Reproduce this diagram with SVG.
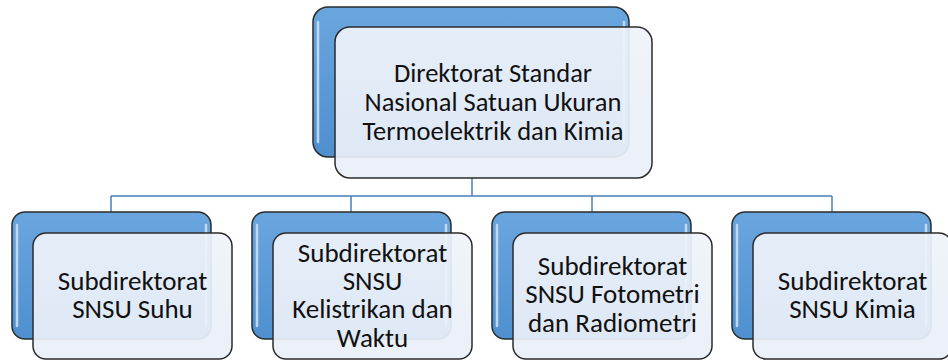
<svg xmlns="http://www.w3.org/2000/svg" width="948" height="360" viewBox="0 0 948 360">
<defs>
<linearGradient id="blue" x1="0" y1="0" x2="0" y2="1">
<stop offset="0" stop-color="#6aa6de"/>
<stop offset="1" stop-color="#4f8fcf"/>
</linearGradient>
<linearGradient id="pale" x1="0" y1="0" x2="0" y2="1">
<stop offset="0" stop-color="#eef3fa"/>
<stop offset="1" stop-color="#e9eff8"/>
</linearGradient>
<style>
.back{fill:url(#blue);stroke:#2b2b2b;stroke-width:1.5}
.hl{fill:none;stroke:#cfe3f7;stroke-width:2.5;stroke-linecap:round;opacity:0.85}
.front{fill:url(#pale);fill-opacity:0.93;stroke:#2b2b2b;stroke-width:1.5}
.t{font-family:Carlito,"Liberation Sans",Arial,sans-serif;fill:#111;text-anchor:middle}
.top{font-size:26.5px}
.sub{font-size:27px}
.conn{fill:none;stroke:#4a7ebb;stroke-width:1.5}
</style>
</defs>
<g id="connectors">
<path class="conn" d="M472 178 V196 M111 196 H832 M111 196 V212 M351 196 V212 M592 196 V212 M832 196 V212"/>
</g>
<g id="n0">
<rect class="back" x="313" y="7" width="316" height="150" rx="15"/>
<path class="hl" d="M318 22 V142 M624 22 V142"/>
<rect class="front" x="335" y="27" width="317" height="151" rx="15"/>
<text class="t top"><tspan x="493" y="82">Direktorat Standar</tspan><tspan x="493" y="111">Nasional Satuan Ukuran</tspan><tspan x="493" y="140">Termoelektrik dan Kimia</tspan></text>
</g>
<g id="n1">
<rect class="back" x="12" y="212" width="199" height="127" rx="13"/>
<path class="hl" d="M17 225 V326 M206 225 V326"/>
<rect class="front" x="33" y="233" width="199" height="126" rx="13"/>
<text class="t sub"><tspan x="132.5" y="290">Subdirektorat</tspan><tspan x="132.5" y="318">SNSU Suhu</tspan></text>
</g>
<g id="n2">
<rect class="back" x="252" y="212" width="199" height="127" rx="13"/>
<path class="hl" d="M257 225 V326 M446 225 V326"/>
<rect class="front" x="273" y="233" width="199" height="126" rx="13"/>
<text class="t sub"><tspan x="372.5" y="262">Subdirektorat</tspan><tspan x="372.5" y="290">SNSU</tspan><tspan x="372.5" y="318">Kelistrikan dan</tspan><tspan x="372.5" y="347">Waktu</tspan></text>
</g>
<g id="n3">
<rect class="back" x="492" y="212" width="199" height="127" rx="13"/>
<path class="hl" d="M497 225 V326 M686 225 V326"/>
<rect class="front" x="513" y="233" width="199" height="126" rx="13"/>
<text class="t sub"><tspan x="612.5" y="275">Subdirektorat</tspan><tspan x="612.5" y="303">SNSU Fotometri</tspan><tspan x="612.5" y="332">dan Radiometri</tspan></text>
</g>
<g id="n4">
<rect class="back" x="732" y="212" width="199" height="127" rx="13"/>
<path class="hl" d="M737 225 V326 M926 225 V326"/>
<rect class="front" x="753" y="233" width="199" height="126" rx="13"/>
<text class="t sub"><tspan x="852.5" y="290">Subdirektorat</tspan><tspan x="852.5" y="318">SNSU Kimia</tspan></text>
</g>
</svg>
